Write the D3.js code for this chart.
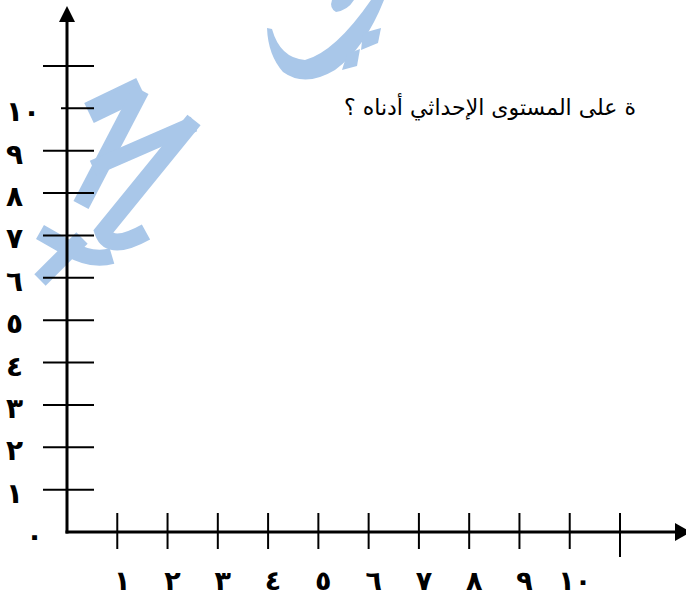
<!DOCTYPE html>
<html>
<head>
<meta charset="utf-8">
<script src="https://cdn.jsdelivr.net/npm/d3@7"></script>
<style>
  body { margin: 0; background: #fff; }
  svg { display: block; }
</style>
</head>
<body>
<div class="plane"></div>
<script>
const xTicks = [1, 2, 3, 4, 5, 6, 7, 8, 9, 10, 11];
const xLabels = ['١', '٢', '٣', '٤', '٥', '٦', '٧', '٨', '٩', '١٠'];
const yTicks = [1, 2, 3, 4, 5, 6, 7, 8, 9, 10, 11];
const yLabels = ['٠', '١', '٢', '٣', '٤', '٥', '٦', '٧', '٨', '٩', '١٠'];
const title = 'ة على المستوى الإحداثي أدناه ؟';

const width = 686;
const height = 599;
const svg = d3.select('.plane')
    .append('svg')
    .attr('width', width)
    .attr('height', height);

const x = d3.scaleLinear().domain([0, 11]).range([67, 620]);
const y = d3.scaleLinear().domain([0, 11]).range([532, 66]);

// watermark (light blue calligraphy behind the plane)
const wm = svg.append('g').attr('fill', 'none').attr('stroke', '#a9c7e9')
    .attr('stroke-linejoin', 'miter').attr('stroke-linecap', 'butt');
wm.append('path').attr('d', 'M89,113 L141,88').attr('stroke-width', 22);
wm.append('path').attr('d', 'M141,90 L81,205').attr('stroke-width', 17);
wm.append('path').attr('d', 'M93,168 L194,124').attr('stroke-width', 16);
wm.append('path').attr('d', 'M194,120 L103,232 Q110,252 146,232').attr('stroke-width', 17);
wm.append('path').attr('d', 'M40,232 L68,248 Q92,262 112,256').attr('stroke-width', 16);
wm.append('path').attr('d', 'M40,280 L82,238').attr('stroke-width', 16);
svg.append('path')
    .attr('d', 'M267,28 L272,29 Q280,58 305,60 Q335,52 371,0 L384,0 Q365,48 335,70 Q305,88 283,72 Q268,55 267,28 Z')
    .attr('fill', '#a9c7e9');
svg.append('path').attr('d', 'M332,0 L354,0 Q348,10 336,12 Q329,8 332,0 Z').attr('fill', '#a9c7e9');
svg.append('path').attr('d', 'M363,33 L381,28 L378,43 L361,50 Z').attr('fill', '#a9c7e9');
svg.append('path').attr('d', 'M347,54 L360,49 L357,66 L342,70 Z').attr('fill', '#a9c7e9');

// y ticks
svg.selectAll('line.ytick')
    .data(yTicks)
    .enter()
    .append('line')
    .attr('class', 'ytick')
    .attr('x1', d => d === 10 ? 61 : 43)
    .attr('x2', 94)
    .attr('y1', d => y(d))
    .attr('y2', d => y(d))
    .attr('stroke', '#000')
    .attr('stroke-width', 2);

// x ticks
svg.selectAll('line.xtick')
    .data(xTicks)
    .enter()
    .append('line')
    .attr('class', 'xtick')
    .attr('x1', d => x(d))
    .attr('x2', d => x(d))
    .attr('y1', y(0) - 19)
    .attr('y2', d => d === 11 ? y(0) + 25 : y(0) + 17)
    .attr('stroke', '#000')
    .attr('stroke-width', 2);

// axes
svg.append('line')
    .attr('x1', x(0)).attr('x2', x(0))
    .attr('y1', 18).attr('y2', y(0) + 1.5)
    .attr('stroke', '#000').attr('stroke-width', 3);
svg.append('line')
    .attr('x1', x(0) - 1.5).attr('x2', 678)
    .attr('y1', y(0)).attr('y2', y(0))
    .attr('stroke', '#000').attr('stroke-width', 3);
svg.append('path')
    .attr('d', `M${x(0)},6 L${x(0) + 8},22 L${x(0) - 8},22 Z`)
    .attr('fill', '#000');
svg.append('path')
    .attr('d', `M675,${y(0) - 9} L691,${y(0)} L675,${y(0) + 9} Z`)
    .attr('fill', '#000');

// labels
svg.selectAll('text.xlab')
    .data(xLabels)
    .enter()
    .append('text')
    .attr('class', 'xlab')
    .text(d => d)
    .attr('x', (d, i) => x(i + 1) + 5)
    .attr('y', 590)
    .attr('text-anchor', 'middle')
    .attr('font-family', 'DejaVu Sans')
    .attr('font-weight', 'bold')
    .attr('font-size', 27);

svg.selectAll('text.ylab')
    .data(yLabels)
    .enter()
    .append('text')
    .attr('class', 'ylab')
    .text(d => d)
    .attr('x', (d, i) => i === 0 ? 26 : 6)
    .attr('y', (d, i) => y(i) + 13)
    .attr('text-anchor', 'start')
    .attr('font-family', 'DejaVu Sans')
    .attr('font-weight', 'bold')
    .attr('font-size', 28);

svg.append('text')
    .text(title)
    .attr('x', 636)
    .attr('y', 115)
    .attr('direction', 'rtl')
    .attr('text-anchor', 'start')
    .attr('font-family', 'DejaVu Sans')
    .attr('font-size', 22);
</script>
</body>
</html>
